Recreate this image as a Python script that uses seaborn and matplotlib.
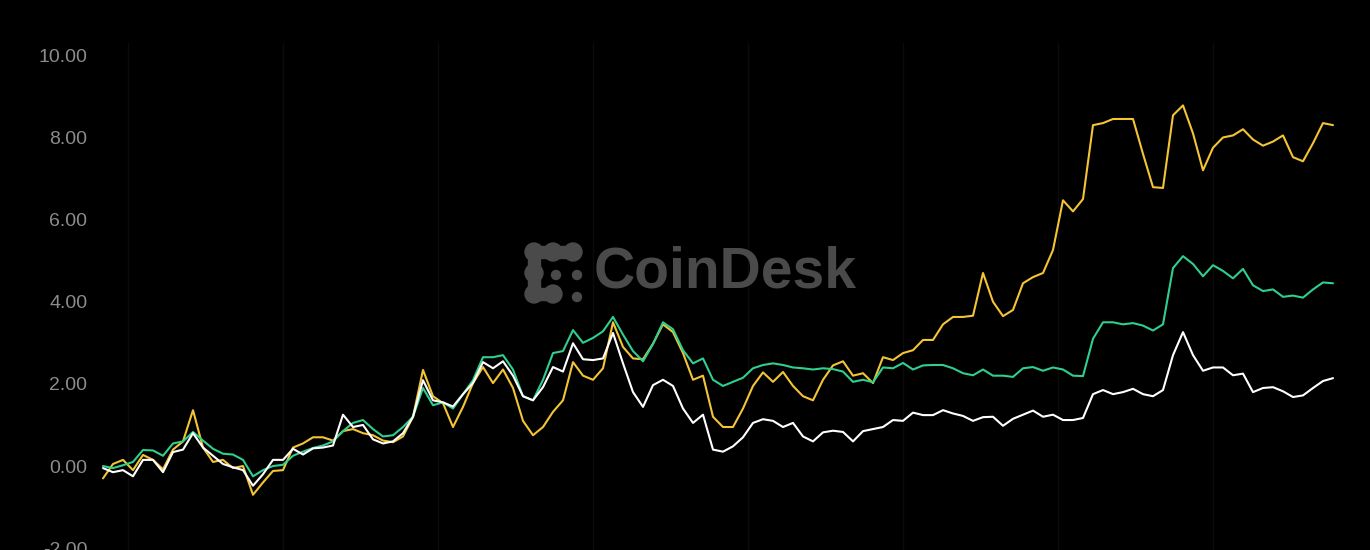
import pandas as pd
import matplotlib
matplotlib.use("Agg")
import matplotlib.pyplot as plt
import seaborn as sns
from matplotlib.patches import Circle, Rectangle

# values, one point every ~10 px
yellow = [-0.3, 0.05, 0.15, -0.1, 0.27, 0.15, -0.08, 0.4, 0.6, 1.36,
          0.45, 0.1, 0.15, -0.05, 0.0, -0.7, -0.4, -0.12, -0.1, 0.45,
          0.55, 0.7, 0.7, 0.62, 0.85, 0.9, 0.8, 0.75, 0.62, 0.58,
          0.72, 1.2, 2.34, 1.7, 1.53, 0.95, 1.44, 2.02, 2.41, 2.02,
          2.35, 1.9, 1.1, 0.75, 0.95, 1.32, 1.6, 2.53, 2.2, 2.1,
          2.38, 3.5, 2.9, 2.62, 2.6, 2.98, 3.45, 3.26, 2.75, 2.1,
          2.2, 1.2, 0.95, 0.95, 1.4, 1.95, 2.28, 2.05, 2.29, 1.95,
          1.7, 1.6, 2.1, 2.45, 2.55, 2.2, 2.26, 2.02, 2.65, 2.58,
          2.75, 2.82, 3.07, 3.07, 3.45, 3.63, 3.63, 3.66, 4.7, 4.0,
          3.65, 3.8, 4.45, 4.6, 4.7, 5.26, 6.47, 6.2, 6.5, 8.3,
          8.35, 8.45, 8.45, 8.45, 7.6, 6.79, 6.77, 8.54, 8.78, 8.1,
          7.2, 7.75, 8.0, 8.05, 8.2, 7.95, 7.8, 7.9, 8.05, 7.52,
          7.42, 7.86, 8.35, 8.3]
green = [0.0, -0.05, 0.02, 0.1, 0.39, 0.38, 0.25, 0.55, 0.6, 0.83,
         0.62, 0.42, 0.3, 0.28, 0.15, -0.25, -0.1, 0.0, 0.03, 0.25,
         0.35, 0.44, 0.5, 0.6, 0.85, 1.05, 1.12, 0.9, 0.72, 0.75,
         0.95, 1.2, 1.9, 1.48, 1.55, 1.4, 1.75, 2.09, 2.65, 2.65,
         2.7, 2.35, 1.7, 1.6, 2.1, 2.75, 2.8, 3.31, 3.0, 3.12,
         3.28, 3.63, 3.2, 2.8, 2.55, 2.97, 3.5, 3.33, 2.82, 2.5,
         2.62, 2.1, 1.95, 2.05, 2.15, 2.38, 2.46, 2.5, 2.46, 2.4,
         2.38, 2.35, 2.38, 2.36, 2.3, 2.05, 2.1, 2.04, 2.4, 2.38,
         2.51, 2.35, 2.45, 2.46, 2.46, 2.38, 2.26, 2.21, 2.35, 2.2,
         2.2, 2.17, 2.38, 2.41, 2.32, 2.4, 2.35, 2.2, 2.19, 3.1,
         3.5, 3.5, 3.45, 3.48, 3.42, 3.3, 3.45, 4.82, 5.11, 4.92,
         4.62, 4.89, 4.75, 4.57, 4.8, 4.4, 4.26, 4.3, 4.12, 4.15,
         4.1, 4.3, 4.47, 4.45]
white = [-0.05, -0.15, -0.1, -0.25, 0.15, 0.15, -0.15, 0.34, 0.4, 0.8,
         0.45, 0.25, 0.05, -0.03, -0.1, -0.48, -0.2, 0.15, 0.15, 0.42,
         0.28, 0.43, 0.45, 0.5, 1.25, 0.95, 1.0, 0.65, 0.55, 0.6,
         0.8, 1.2, 2.09, 1.6, 1.55, 1.45, 1.75, 2.02, 2.53, 2.38,
         2.55, 2.2, 1.7, 1.6, 1.92, 2.41, 2.3, 2.99, 2.6, 2.58,
         2.62, 3.24, 2.5, 1.8, 1.44, 1.97, 2.1, 1.95, 1.4, 1.05,
         1.25, 0.4, 0.35, 0.48, 0.7, 1.05, 1.14, 1.1, 0.95, 1.05,
         0.72, 0.6, 0.82, 0.86, 0.83, 0.6, 0.85, 0.9, 0.95, 1.12,
         1.1, 1.3, 1.24, 1.24, 1.36, 1.28, 1.22, 1.1, 1.19, 1.2,
         0.98, 1.15, 1.25, 1.35, 1.2, 1.25, 1.12, 1.12, 1.17, 1.75,
         1.85, 1.75, 1.8, 1.88, 1.75, 1.7, 1.85, 2.7, 3.26, 2.7,
         2.32, 2.4, 2.4, 2.21, 2.25, 1.8, 1.9, 1.92, 1.82, 1.68,
         1.72, 1.9, 2.07, 2.14]
y_ticks = [-2, 0, 2, 4, 6, 8, 10]

df = pd.DataFrame({"step": range(len(yellow)), "yellow": yellow,
                   "green": green, "white": white})
df = df.melt(id_vars="step", var_name="series", value_name="value")
palette = {"yellow": "#f3c433", "green": "#2fcf8f", "white": "#ffffff"}

sns.set_theme(style="dark", rc={"axes.facecolor": "black",
                                "figure.facecolor": "black"})
plt.rcParams["font.family"] = ["Liberation Sans", "DejaVu Sans"]

W, H = 1370, 550
fig = plt.figure(figsize=(W / 100, H / 100), dpi=100)
ax = fig.add_axes([100 / W, -10.5 / H, 1240 / W, 517.5 / H])

# watermark behind the lines
wm = "#4a4a4a"
fig.text(594 / W, (H - 273) / H, "CoinDesk", color=wm, fontsize=41,
         fontweight="bold", family=["Liberation Sans", "DejaVu Sans"],
         va="center", ha="left", zorder=0)
for cx, cy in [(534, 252), (553, 252), (573, 252), (534, 273),
               (534, 294), (553, 294)]:
    fig.patches.append(Circle((cx, H - cy), 9, transform=None,
                              color=wm, zorder=0))
for x0, y0, w, h in [(534, 246, 39, 12), (528, 252, 12, 42),
                     (534, 288, 19, 12)]:
    fig.patches.append(Rectangle((x0, H - y0 - h), w, h, transform=None,
                                 color=wm, zorder=0))
for cx, cy in [(556, 275), (577, 275), (577, 297)]:
    fig.patches.append(Circle((cx, H - cy), 4.5, transform=None,
                              color=wm, zorder=0))

sns.lineplot(data=df, x="step", y="value", hue="series", palette=palette,
             linewidth=1.5, legend=False, ax=ax)

ax.set_xlim(-0.3, 123.7)
ax.set_ylim(-2.3, 10.3)
ax.set_yticks(y_ticks)
ax.set_yticklabels([f"{v:.2f}" for v in y_ticks])
ax.set_xticks([2.5 + 15.5 * k for k in range(8)])
ax.set_xticklabels([])
ax.tick_params(axis="y", length=0, pad=9, labelsize=14, labelcolor="#8c8c8c")
ax.tick_params(axis="x", length=0)
ax.grid(axis="x", color="#0b0b0b", linewidth=1)
ax.grid(axis="y", visible=False)
ax.set_xlabel("")
ax.set_ylabel("")
for s in ax.spines.values():
    s.set_visible(False)
ax.patch.set_alpha(0)

fig.savefig("out.png", dpi=100, facecolor="black")
